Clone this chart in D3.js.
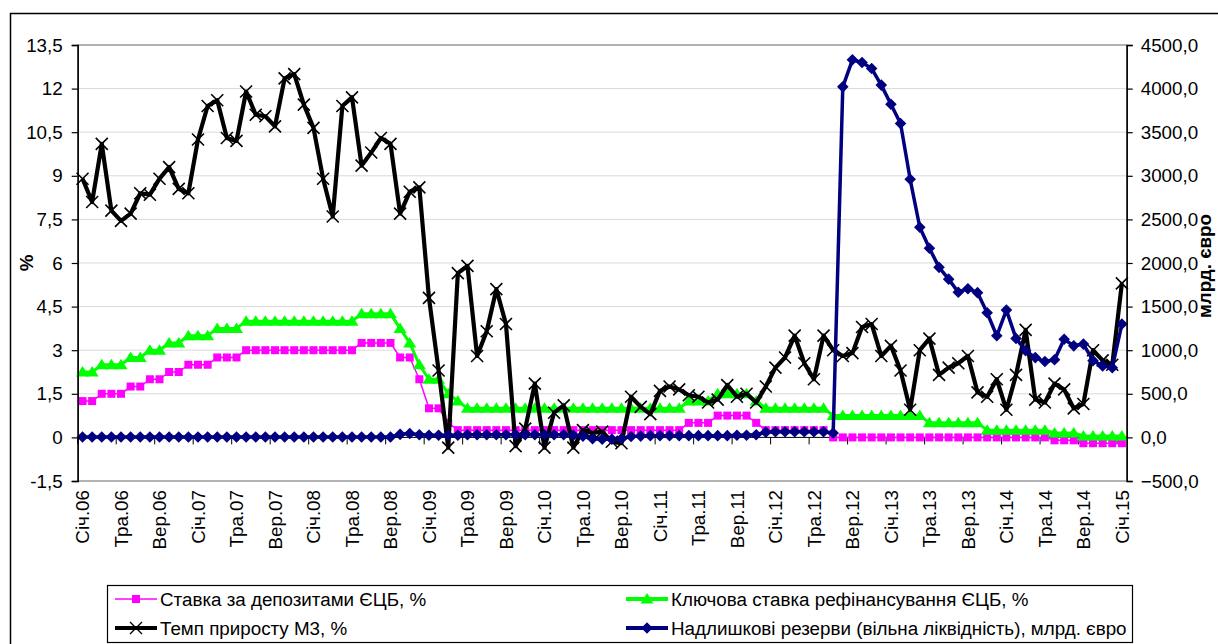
<!DOCTYPE html>
<html><head><meta charset="utf-8">
<script src="https://cdn.jsdelivr.net/npm/d3@7"></script>
<style>
body{margin:0;background:#fff}
svg{display:block;font-family:"Liberation Sans",Arial,sans-serif}
</style>
</head><body>
<svg id="c" width="1218" height="644"></svg>
<script>
// ---------- DATA ----------
const yearCodes = ["06","07","08","09","10","11","12","13","14","15"];
const monthNames = ["Січ","Лют","Бер","Кві","Тра","Чер","Лип","Сер","Вер","Жов","Лис","Гру"];
const categories = [];
yearCodes.forEach((y, yi) => monthNames.forEach((m, mi) => {
  if (yi < yearCodes.length - 1 || mi === 0) categories.push(m + "." + y);
}));
const xTickLabels = ["Січ.06","Тра.06","Вер.06","Січ.07","Тра.07","Вер.07","Січ.08","Тра.08","Вер.08",
  "Січ.09","Тра.09","Вер.09","Січ.10","Тра.10","Вер.10","Січ.11","Тра.11","Вер.11","Січ.12","Тра.12",
  "Вер.12","Січ.13","Тра.13","Вер.13","Січ.14","Тра.14","Вер.14","Січ.15"];

const depositRate = [
  1.25,1.25,1.5,1.5,1.5,1.75,1.75,2,2,2.25,2.25,2.5,
  2.5,2.5,2.75,2.75,2.75,3,3,3,3,3,3,3,
  3,3,3,3,3,3.25,3.25,3.25,3.25,2.75,2.75,2,
  1,1,0.5,0.25,0.25,0.25,0.25,0.25,0.25,0.25,0.25,0.25,
  0.25,0.25,0.25,0.25,0.25,0.25,0.25,0.25,0.25,0.25,0.25,0.25,
  0.25,0.25,0.25,0.5,0.5,0.5,0.75,0.75,0.75,0.75,0.5,0.25,
  0.25,0.25,0.25,0.25,0.25,0.25,0,0,0,0,0,0,
  0,0,0,0,0,0,0,0,0,0,0,0,
  0,0,0,0,0,-0.1,-0.1,-0.1,-0.2,-0.2,-0.2,-0.2,
  -0.2
];
const refiRate = [
  2.25,2.25,2.5,2.5,2.5,2.75,2.75,3,3,3.25,3.25,3.5,
  3.5,3.5,3.75,3.75,3.75,4,4,4,4,4,4,4,
  4,4,4,4,4,4.25,4.25,4.25,4.25,3.75,3.25,2.5,
  2,2,1.5,1.25,1,1,1,1,1,1,1,1,
  1,1,1,1,1,1,1,1,1,1,1,1,
  1,1,1,1.25,1.25,1.25,1.5,1.5,1.5,1.5,1.25,1,
  1,1,1,1,1,1,0.75,0.75,0.75,0.75,0.75,0.75,
  0.75,0.75,0.75,0.75,0.5,0.5,0.5,0.5,0.5,0.5,0.25,0.25,
  0.25,0.25,0.25,0.25,0.25,0.15,0.15,0.15,0.05,0.05,0.05,0.05,
  0.05
];
const m3Growth = [
  8.9,8.1,10.1,7.8,7.45,7.7,8.4,8.35,8.9,9.3,8.55,8.4,
  10.25,11.4,11.6,10.3,10.2,11.9,11.1,11.05,10.7,12.35,12.5,11.45,
  10.65,8.9,7.6,11.4,11.7,9.35,9.8,10.3,10.1,7.7,8.45,8.6,
  4.8,2.3,-0.35,5.65,5.9,2.8,3.65,5.1,3.9,-0.3,0.3,1.85,
  -0.35,0.85,1.1,-0.35,0.25,0.15,0.2,-0.15,-0.2,1.4,1.05,0.8,
  1.6,1.75,1.65,1.45,1.4,1.2,1.3,1.8,1.4,1.5,1.2,1.75,
  2.4,2.75,3.5,2.55,2.0,3.5,3.0,2.8,2.9,3.8,3.9,2.8,
  3.15,2.3,0.95,3.0,3.4,2.15,2.4,2.55,2.8,1.55,1.4,2.0,
  0.95,2.15,3.7,1.3,1.2,1.85,1.65,1.0,1.15,3.0,2.65,2.5,
  5.3
];
const excessReserves = [
  5,5,5,5,5,5,5,5,5,5,5,5,
  5,5,5,5,5,5,5,5,5,5,5,5,
  5,5,5,5,5,5,5,5,5,35,45,30,
  25,25,25,25,30,30,30,30,30,30,30,30,
  30,30,30,25,15,-15,-20,-20,-15,10,15,20,
  20,20,20,20,20,20,20,20,25,25,30,60,
  65,65,65,65,65,65,50,4020,4330,4300,4230,4040,
  3820,3600,2960,2410,2170,1950,1815,1665,1705,1660,1430,1165,
  1460,1135,995,915,870,890,1125,1050,1070,880,820,800,
  1300
];
const leftTicks = [-1.5,0,1.5,3,4.5,6,7.5,9,10.5,12,13.5];
const rightTicks = [-500,0,500,1000,1500,2000,2500,3000,3500,4000,4500];
const seriesNames = ["Ставка за депозитами ЄЦБ, %","Ключова ставка рефінансування ЄЦБ, %",
  "Темп приросту М3, %","Надлишкові резерви (вільна ліквідність), млрд. євро"];
const leftTitle = "%";
const rightTitle = "млрд. євро";

// ---------- LAYOUT ----------
const svg = d3.select("#c");
const X0 = 77.7, X1 = 1126.7, YT = 45, YB = 481;
const FS = 18.8;
const FF = "Liberation Sans, Arial, sans-serif";
const x = d3.scaleBand().domain(d3.range(categories.length)).range([X0, X1]).padding(0);
const cx = i => x(i) + x.bandwidth() / 2;
const yL = d3.scaleLinear().domain([-1.5, 13.5]).range([YB, YT]);
const yR = d3.scaleLinear().domain([-500, 4500]).range([YB, YT]);
const comma = s => s.replace(".", ",");

svg.append("rect").attr("width",1218).attr("height",644).attr("fill","#fff");
// outer frame
svg.append("rect").attr("x",10.5).attr("y",13.5).attr("width",1230).attr("height",660)
  .attr("fill","none").attr("stroke","#000").attr("stroke-width",1.5);

// gridlines
svg.append("g").selectAll("line").data(leftTicks.filter(d => d > -1.5 && d < 13.5)).join("line")
  .attr("x1",X0).attr("x2",X1).attr("y1",d => yL(d)).attr("y2",d => yL(d))
  .attr("stroke","#d9d9d9").attr("stroke-width",1);
// plot border
svg.append("rect").attr("x",X0).attr("y",YT).attr("width",X1-X0).attr("height",YB-YT)
  .attr("fill","none").attr("stroke","#808080").attr("stroke-width",1.2);

// category axis at 0
const y0 = yL(0);
svg.append("line").attr("x1",X0).attr("x2",X1).attr("y1",y0).attr("y2",y0).attr("stroke","#000").attr("stroke-width",1);
const boundaries = d3.range(0, categories.length, 4);
svg.append("g").selectAll("line").data(boundaries).join("line")
  .attr("x1",d => x(d)).attr("x2",d => x(d)).attr("y1",y0).attr("y2",y0+7)
  .attr("stroke","#000").attr("stroke-width",1);

// x labels (bottom)
const gx = svg.append("g").attr("transform",`translate(0,${YB})`)
  .call(d3.axisBottom(x).tickValues(boundaries).tickSize(0).tickFormat((d,i) => xTickLabels[i]));
gx.select(".domain").remove();
gx.selectAll("text").attr("font-size",FS).attr("font-family",FF)
  .attr("fill","#000").attr("transform","rotate(-90)").attr("text-anchor","end")
  .attr("x",-9).attr("y",0).attr("dy","0.36em");

// ---------- SERIES ----------
const sqPath = "M-4,-4H4V4H-4Z";
const triPath = "M0,-6L6.5,4.5H-6.5Z";
const diaPath = "M0,-5.8L5.8,0L0,5.8L-5.8,0Z";
const xPath = "M-6,-6L6,6M6,-6L-6,6";

function drawSeries(vals, yScale, color, lw, markerPath, markerFill, markerStroke, msw) {
  const g = svg.append("g");
  g.append("path").datum(vals)
    .attr("d", d3.line().x((d,i) => cx(i)).y(d => yScale(d)))
    .attr("fill","none").attr("stroke",color).attr("stroke-width",lw).attr("stroke-linejoin","round");
  g.selectAll("path.m").data(vals).join("path").attr("class","m")
    .attr("transform",(d,i) => `translate(${cx(i)},${yScale(d)})`)
    .attr("d", markerPath)
    .attr("fill", markerFill).attr("stroke", markerStroke).attr("stroke-width", msw);
}
drawSeries(depositRate, yL, "#FF00FF", 1.5, sqPath, "#FF00FF", "none", 0);
drawSeries(refiRate, yL, "#00FF00", 3, triPath, "#00FF00", "none", 0);
drawSeries(m3Growth, yL, "#000", 4.2, xPath, "none", "#000", 1.6);
drawSeries(excessReserves, yR, "#000080", 3.5, diaPath, "#000080", "none", 0);

// ---------- AXES ----------
const gl = svg.append("g").attr("transform",`translate(${X0},0)`)
  .call(d3.axisLeft(yL).tickValues(leftTicks).tickSize(6).tickPadding(9)
    .tickFormat(d => comma(String(d))));
const gr = svg.append("g").attr("transform",`translate(${X1},0)`)
  .call(d3.axisRight(yR).tickValues(rightTicks).tickSize(6).tickPadding(8)
    .tickFormat(d => comma(d3.format(".1f")(d))));
[gl, gr].forEach(g => {
  g.select(".domain").attr("stroke","#000").attr("stroke-width",1.5);
  g.selectAll(".tick line").attr("stroke","#000").attr("stroke-width",1.2);
  g.selectAll("text").attr("font-size",FS).attr("font-family",FF).attr("fill","#000");
});

svg.append("text").attr("transform","translate(33,263) rotate(-90)").attr("text-anchor","middle")
  .attr("font-size",FS).attr("font-weight","bold").text(leftTitle);
svg.append("text").attr("transform","translate(1211,266) rotate(-90)").attr("text-anchor","middle")
  .attr("font-size",FS).attr("font-weight","bold").text(rightTitle);

// ---------- LEGEND ----------
svg.append("rect").attr("x",107.5).attr("y",585.5).attr("width",1025).attr("height",57)
  .attr("fill","#fff").attr("stroke","#000").attr("stroke-width",1.2);
const legendItems = [
  {name: seriesNames[0], color:"#FF00FF", lw:1.5, m:sqPath, fill:"#FF00FF", stroke:"none", sw:0, lx:115, ly:599},
  {name: seriesNames[1], color:"#00FF00", lw:4, m:triPath, fill:"#00FF00", stroke:"none", sw:0, lx:626, ly:599},
  {name: seriesNames[2], color:"#000", lw:4, m:xPath, fill:"none", stroke:"#000", sw:1.4, lx:115, ly:628},
  {name: seriesNames[3], color:"#000080", lw:4, m:diaPath, fill:"#000080", stroke:"none", sw:0, lx:626, ly:628}
];
const lg = svg.append("g").selectAll("g").data(legendItems).join("g")
  .attr("transform", d => `translate(${d.lx},${d.ly})`);
lg.append("line").attr("x1",0).attr("x2",42).attr("y1",0).attr("y2",0)
  .attr("stroke", d => d.color).attr("stroke-width", d => d.lw);
lg.append("path").attr("transform","translate(21,0)").attr("d", d => d.m)
  .attr("fill", d => d.fill).attr("stroke", d => d.stroke).attr("stroke-width", d => d.sw);
lg.append("text").attr("x",45).attr("y",0).attr("dy","0.35em").attr("font-size",FS).attr("font-family",FF).text(d => d.name);
</script>
</body></html>
